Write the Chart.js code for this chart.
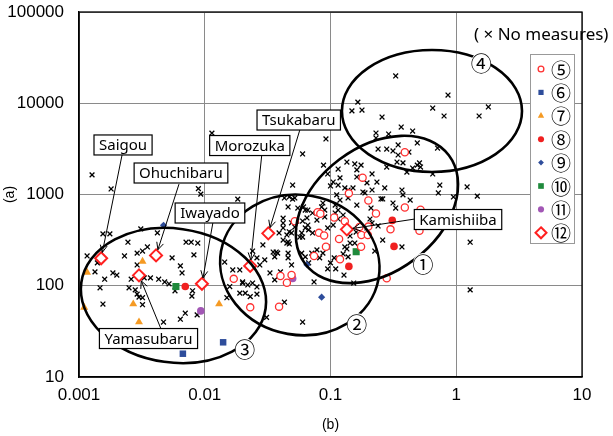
<!DOCTYPE html>
<html lang="en">
<head>
<meta charset="utf-8">
<title>(a) vs (b)</title>
<script src="https://cdn.jsdelivr.net/npm/chart.js"></script>
<style>
  html, body { margin: 0; padding: 0; background: #fff; }
</style>
</head>
<body>
<canvas id="myChart" width="613" height="436"></canvas>
<script>
// axis ticks
const xTicks = [0.001, 0.01, 0.1, 1, 10];
const xTickLabels = ['0.001', '0.01', '0.1', '1', '10'];
const yTicks = [10, 100, 1000, 10000, 100000];
const yTickLabels = ['10', '100', '1000', '10000', '100000'];

// x = no measures
const noMeasure = [
  [0.0114,4700],[0.00127,1640],[0.0018,1150],[0.0089,1160],[0.0093,1010],[0.0183,890],[0.0164,710],[0.06,2780],
  [0.05,1270],[0.05,890],[0.046,730],[0.061,730],[0.092,4060],[0.088,2100],
  [0.00176,370],[0.00155,370],[0.00245,300],[0.0031,420],[0.0042,380],[0.00116,212],[0.0014,178],[0.00134,142],
  [0.00186,138],[0.0016,118],[0.00147,95],[0.00155,63],[0.002,131],[0.0023,212],[0.0029,228],[0.0032,240],
  [0.0035,266],[0.0029,169],[0.0026,118],[0.0033,122],[0.0037,122],[0.0043,118],[0.0048,110],[0.0052,105],
  [0.0025,95],[0.0028,90],[0.0029,81],[0.003,75],[0.0032,74],[0.0032,62],[0.0055,202],[0.0064,165],[0.0066,138],
  [0.0071,300],[0.0078,300],[0.0088,294],[0.0082,218],[0.008,88],[0.0079,77],[0.0058,88],[0.007,50],[0.0064,43],
  [0.0087,48],[0.0047,40],
  [0.0144,182],[0.0167,149],[0.019,149],[0.02,110],[0.0158,98],[0.015,74],[0.019,83],[0.021,83],[0.023,76],
  [0.026,81],[0.024,107],[0.026,97],[0.024,240],[0.026,202],[0.03,192],[0.0274,169],[0.024,161],[0.029,280],
  [0.033,138],[0.036,116],[0.04,142],[0.035,234],[0.037,234],[0.046,228],[0.042,317],[0.046,302],[0.049,379],
  [0.039,379],[0.042,487],[0.042,550],[0.049,490],[0.052,440],[0.047,390],[0.045,360],[0.045,294],[0.047,287],
  [0.038,228],[0.046,202],[0.049,169],[0.059,228],[0.063,207],[0.067,178],[0.071,228],[0.074,110],[0.06,40],
  [0.031,45],[0.043,66],[0.02,107],[0.022,102],[0.047,940],[0.043,916],[0.052,916],[0.055,711],[0.063,676],
  [0.066,676],[0.072,627],[0.078,525],[0.065,553],[0.066,463],[0.06,512],[0.054,512],[0.067,409],[0.072,379],
  [0.059,379],[0.06,342],[0.057,342],[0.063,430],[0.042,430],[0.036,207],
  [0.087,807],[0.085,730],[0.09,676],[0.109,627],[0.115,676],[0.126,596],[0.115,539],[0.105,463],[0.095,430],
  [0.09,567],[0.109,767],[0.119,870],[0.138,916],[0.162,767],[0.21,711],[0.26,893],[0.252,893],[0.314,807],
  [0.33,711],[0.43,870],[0.37,1120],[0.377,990],[0.27,1180],[0.214,1120],[0.181,1065],[0.151,1180],[0.138,1120],
  [0.13,1180],[0.115,1270],[0.1,1240],[0.105,1370],[0.119,1520],[0.135,2270],[0.156,2160],[0.162,1860],
  [0.175,2100],[0.115,1900],[0.095,1680],[0.214,1680],[0.162,1555],[0.181,1520],[0.234,1370],[0.195,1340],
  [0.239,3150],[0.28,3150],[0.314,3000],[0.345,3490],[0.42,2920],[0.338,2270],[0.377,2220],[0.28,2000],
  [0.345,2710],[0.405,1760],[0.45,1950],[0.49,2100],[0.52,2000],[0.51,2220],[0.65,1680],[0.74,1270],[0.72,1040],
  [1.22,1210],[1.47,960],[0.95,940],[0.71,3230],[0.49,3670],[0.45,4960],[0.365,5490],[0.29,4600],[0.23,4720],
  [0.23,4160],[0.257,7060],[0.178,8430],[0.148,8240],[0.165,10300],[0.33,19900],[0.65,8860],[0.8,7250],
  [0.86,12300],[1.52,7250],[1.8,9100],[1.29,300],[1.29,90],
  [0.143,351],[0.16,388],[0.156,294],[0.143,294],[0.13,266],[0.135,253],[0.126,223],[0.138,207],[0.107,202],
  [0.11,153],[0.128,131],[0.153,107],[0.095,153],[0.078,247],[0.087,228],[0.094,266],[0.082,202],[0.1,178],
  [0.195,430],[0.214,487],[0.239,452],[0.206,539],[0.26,317],[0.37,266],[0.225,240],[0.112,990],[0.188,1040]
];

const s5 = [[0.39,2900],[0.18,1530],[0.14,1030],[0.2,860],[0.39,720],[0.52,680],[0.23,620],[0.079,640],[0.083,615],
  [0.107,560],[0.052,510],[0.13,510],[0.17,440],[0.2,445],[0.3,415],[0.51,400],[0.081,380],[0.089,355],[0.117,325],
  [0.176,360],[0.198,360],[0.175,268],[0.092,268],[0.074,212],[0.119,195],[0.04,128],[0.049,131],[0.045,108],
  [0.017,119],[0.28,121],[0.039,59],[0.023,58]];
const s6 = [[0.014,24],[0.0067,18]];
const s7 = [[0.00116,140],[0.0032,185],[0.0011,58],[0.0027,63],[0.003,40],[0.013,63]];
const s8 = [[0.007,98],[0.14,163],[0.31,520],[0.32,270]];
const s9 = [[0.085,75],[0.065,170],[0.0047,460]];
const s10 = [[0.0059,98],[0.16,236]];
const s11 = [[0.0093,53],[0.05,120]];
const s12 = [[0.0015,200],[0.0041,215],[0.003,130],[0.0095,105],[0.023,165],[0.032,375],[0.135,415]];

// named sites (same order as s12): text box centre and arrow start
const siteNames = ['Saigou', 'Ohuchibaru', 'Yamasubaru', 'Iwayado', 'Morozuka', 'Tsukabaru', 'Kamishiiba'];
const siteBox = [[0.00224,3490],[0.00647,1720],[0.00357,26.4],[0.011,627],[0.0228,3440],[0.0559,6550],[1.033,532]];
const siteFrom = [[0.0022,2710],[0.00624,1300],[0.00449,33.6],[0.0116,487],[0.0284,2710],[0.057,5090],[0.47,539]];

// groups: centre, half-size in decades (x, y), tilt in degrees, label position
const groupNames = ['①', '②', '③', '④'];
const groupCentre = [[0.234,685],[0.057,169],[0.00564,78.2],[0.641,8220]];
const groupSize = [[0.716,0.685],[0.636,0.767],[0.74,0.734],[0.716,0.668]];
const groupTilt = [-37, 10, 8, 0];
const groupLabel = [[0.544,177],[0.162,39.1],[0.0208,20.8],[1.58,28300]];

const pts = arr => arr.map(([x, y]) => ({x, y}));
const cjk = "'Noto Sans CJK JP', 'DejaVu Sans', sans-serif";

function marker(ctx, style, x, y, r, fill, stroke, lw) {
  ctx.save();
  ctx.beginPath();
  if (style === 'circle') {
    ctx.arc(x, y, r, 0, Math.PI * 2);
  } else if (style === 'rect') {
    const s = r * Math.SQRT1_2;
    ctx.rect(x - s, y - s, 2 * s, 2 * s);
  } else if (style === 'rectRot') {
    ctx.moveTo(x, y - r); ctx.lineTo(x + r, y); ctx.lineTo(x, y + r); ctx.lineTo(x - r, y); ctx.closePath();
  } else if (style === 'triangle') {
    ctx.moveTo(x, y - r); ctx.lineTo(x + r * 0.87, y + r * 0.5); ctx.lineTo(x - r * 0.87, y + r * 0.5); ctx.closePath();
  }
  ctx.fillStyle = fill; ctx.fill();
  if (lw) { ctx.lineWidth = lw; ctx.strokeStyle = stroke; ctx.stroke(); }
  ctx.restore();
}

const overlay = {
  id: 'overlay',
  beforeDraw(chart) {
    const ctx = chart.ctx;
    ctx.save();
    ctx.fillStyle = '#fff';
    ctx.fillRect(0, 0, chart.width, chart.height);
    ctx.restore();
  },
  afterDatasetsDraw(chart) {
    const {ctx, chartArea: a, scales: {x, y}} = chart;
    ctx.save();

    // frame
    ctx.strokeStyle = '#000';
    ctx.lineWidth = 1.3;
    ctx.strokeRect(a.left, a.top, a.right - a.left, a.bottom - a.top);

    // group ellipses
    ctx.lineWidth = 2.6;
    groupCentre.forEach((c, i) => {
      const cx = x.getPixelForValue(c[0]), cy = y.getPixelForValue(c[1]);
      const rx = x.getPixelForValue(c[0] * Math.pow(10, groupSize[i][0])) - cx;
      const ry = cy - y.getPixelForValue(c[1] * Math.pow(10, groupSize[i][1]));
      ctx.beginPath();
      ctx.ellipse(cx, cy, rx, ry, groupTilt[i] * Math.PI / 180, 0, Math.PI * 2);
      ctx.stroke();
    });

    // arrows to named sites
    ctx.lineWidth = 1;
    s12.forEach((p, i) => {
      const x0 = x.getPixelForValue(siteFrom[i][0]), y0 = y.getPixelForValue(siteFrom[i][1]);
      const x1 = x.getPixelForValue(p[0]), y1 = y.getPixelForValue(p[1]);
      const ang = Math.atan2(y1 - y0, x1 - x0);
      const ex = x1 - Math.cos(ang) * 6, ey = y1 - Math.sin(ang) * 6;
      ctx.beginPath();
      ctx.moveTo(x0, y0); ctx.lineTo(ex, ey);
      ctx.moveTo(ex - Math.cos(ang - 0.45) * 8, ey - Math.sin(ang - 0.45) * 8);
      ctx.lineTo(ex, ey);
      ctx.lineTo(ex - Math.cos(ang + 0.45) * 8, ey - Math.sin(ang + 0.45) * 8);
      ctx.stroke();
    });

    // site text boxes
    ctx.font = "15px 'Noto Sans', sans-serif";
    ctx.textAlign = 'center';
    ctx.textBaseline = 'middle';
    siteNames.forEach((name, i) => {
      const bx = x.getPixelForValue(siteBox[i][0]), by = y.getPixelForValue(siteBox[i][1]);
      const w = ctx.measureText(name).width + 10, h = 20;
      ctx.fillStyle = '#fff';
      ctx.fillRect(bx - w / 2, by - h / 2, w, h);
      ctx.strokeStyle = '#000';
      ctx.lineWidth = 1.2;
      ctx.strokeRect(bx - w / 2, by - h / 2, w, h);
      ctx.fillStyle = '#000';
      ctx.fillText(name, bx, by + 1);
    });

    // group numbers
    ctx.font = '21px ' + cjk;
    groupNames.forEach((n, i) => {
      const lx = x.getPixelForValue(groupLabel[i][0]), ly = y.getPixelForValue(groupLabel[i][1]);
      ctx.fillStyle = '#fff';
      ctx.beginPath(); ctx.arc(lx, ly, 10, 0, Math.PI * 2); ctx.fill();
      ctx.fillStyle = '#000';
      ctx.fillText(n, lx, ly + 1);
    });

    // legend box
    const lx0 = a.right - 52, ly0 = a.top + 42, lw = 44, lh = 189;
    ctx.fillStyle = '#fff';
    ctx.fillRect(lx0, ly0, lw, lh);
    ctx.strokeStyle = '#999';
    ctx.lineWidth = 1;
    ctx.strokeRect(lx0 + 0.5, ly0 + 0.5, lw, lh);
    chart.data.datasets.slice(1).forEach((ds, i) => {
      const ry = ly0 + 15 + i * 23.4;
      const r = ds.pointStyle === 'rectRot' && ds.borderWidth > 1 ? 5.5 : ds.pointRadius * 0.8;
      marker(ctx, ds.pointStyle, lx0 + 11, ry, r, ds.backgroundColor, ds.borderColor, ds.borderWidth);
      ctx.fillStyle = '#000';
      ctx.font = '20px ' + cjk;
      ctx.fillText(ds.label, lx0 + 31, ry + 1);
    });

    // note
    ctx.textAlign = 'left';
    ctx.font = "17px 'Noto Sans', sans-serif";
    ctx.fillText('( \u00d7 No measures)', a.right - 108, a.top + 23);

    ctx.restore();
  }
};

new Chart(document.getElementById('myChart'), {
  type: 'scatter',
  data: {
    datasets: [
      {label: '\u00d7', data: pts(noMeasure), pointStyle: 'crossRot', pointRadius: 3.4, borderColor: '#000', backgroundColor: '#000', borderWidth: 1.3, order: 2},
      {label: '⑤', data: pts(s5), pointStyle: 'circle', pointRadius: 3.6, borderColor: '#ff3030', backgroundColor: '#fff', borderWidth: 1.3, order: 1},
      {label: '⑥', data: pts(s6), pointStyle: 'rect', pointRadius: 4.6, borderColor: '#2e4d9b', backgroundColor: '#2e4d9b', borderWidth: 0, order: 1},
      {label: '⑦', data: pts(s7), pointStyle: 'triangle', pointRadius: 4.6, borderColor: '#f59a23', backgroundColor: '#f59a23', borderWidth: 0, order: 1},
      {label: '⑧', data: pts(s8), pointStyle: 'circle', pointRadius: 3.8, borderColor: '#f02020', backgroundColor: '#f02020', borderWidth: 0, order: 1},
      {label: '⑨', data: pts(s9), pointStyle: 'rectRot', pointRadius: 3.6, borderColor: '#2e4d9b', backgroundColor: '#2e4d9b', borderWidth: 0, order: 1},
      {label: '⑩', data: pts(s10), pointStyle: 'rect', pointRadius: 5, borderColor: '#1f8a3c', backgroundColor: '#1f8a3c', borderWidth: 0, order: 1},
      {label: '⑪', data: pts(s11), pointStyle: 'circle', pointRadius: 3.8, borderColor: '#a257b5', backgroundColor: '#a257b5', borderWidth: 0, order: 1},
      {label: '⑫', data: pts(s12), pointStyle: 'rectRot', pointRadius: 6, borderColor: '#ff2020', backgroundColor: '#fff', borderWidth: 2, order: 0}
    ]
  },
  options: {
    responsive: false,
    animation: false,
    events: [],
    layout: {padding: {top: 12, right: 31, left: 0, bottom: 0}},
    plugins: {legend: {display: false}, tooltip: {enabled: false}},
    scales: {
      x: {
        type: 'logarithmic', min: 0.001, max: 10,
        afterBuildTicks: s => { s.ticks = xTicks.map(v => ({value: v})); },
        afterFit: s => { s.height = 59; s.paddingLeft = 0; s.paddingRight = 0; },
        ticks: {
          color: '#000', padding: 8, maxRotation: 0, autoSkip: false,
          font: {family: "'Liberation Sans', Arial, sans-serif", size: 17},
          callback: (v) => xTickLabels[xTicks.indexOf(v)] ?? ''
        },
        grid: {color: '#8a8a8a', lineWidth: 1, drawTicks: false},
        border: {color: '#000', width: 1.3},
        title: {display: true, text: '(b)', color: '#000', font: {family: "'Liberation Sans', sans-serif", size: 14}, padding: {top: 0, bottom: 2}}
      },
      y: {
        type: 'logarithmic', min: 10, max: 100000,
        afterBuildTicks: s => { s.ticks = yTicks.map(v => ({value: v})); },
        afterFit: s => { s.width = 79; s.paddingTop = 0; s.paddingBottom = 0; },
        ticks: {
          color: '#000', padding: 15, autoSkip: false,
          font: {family: "'Liberation Sans', Arial, sans-serif", size: 17},
          callback: (v) => yTickLabels[yTicks.indexOf(v)] ?? ''
        },
        grid: {color: '#8a8a8a', lineWidth: 1, drawTicks: false},
        border: {color: '#000', width: 1.3},
        title: {display: true, text: '(a)', color: '#000', font: {family: "'Liberation Sans', sans-serif", size: 14}, padding: {top: 2, bottom: 0}}
      }
    }
  },
  plugins: [overlay]
});
</script>
</body>
</html>
